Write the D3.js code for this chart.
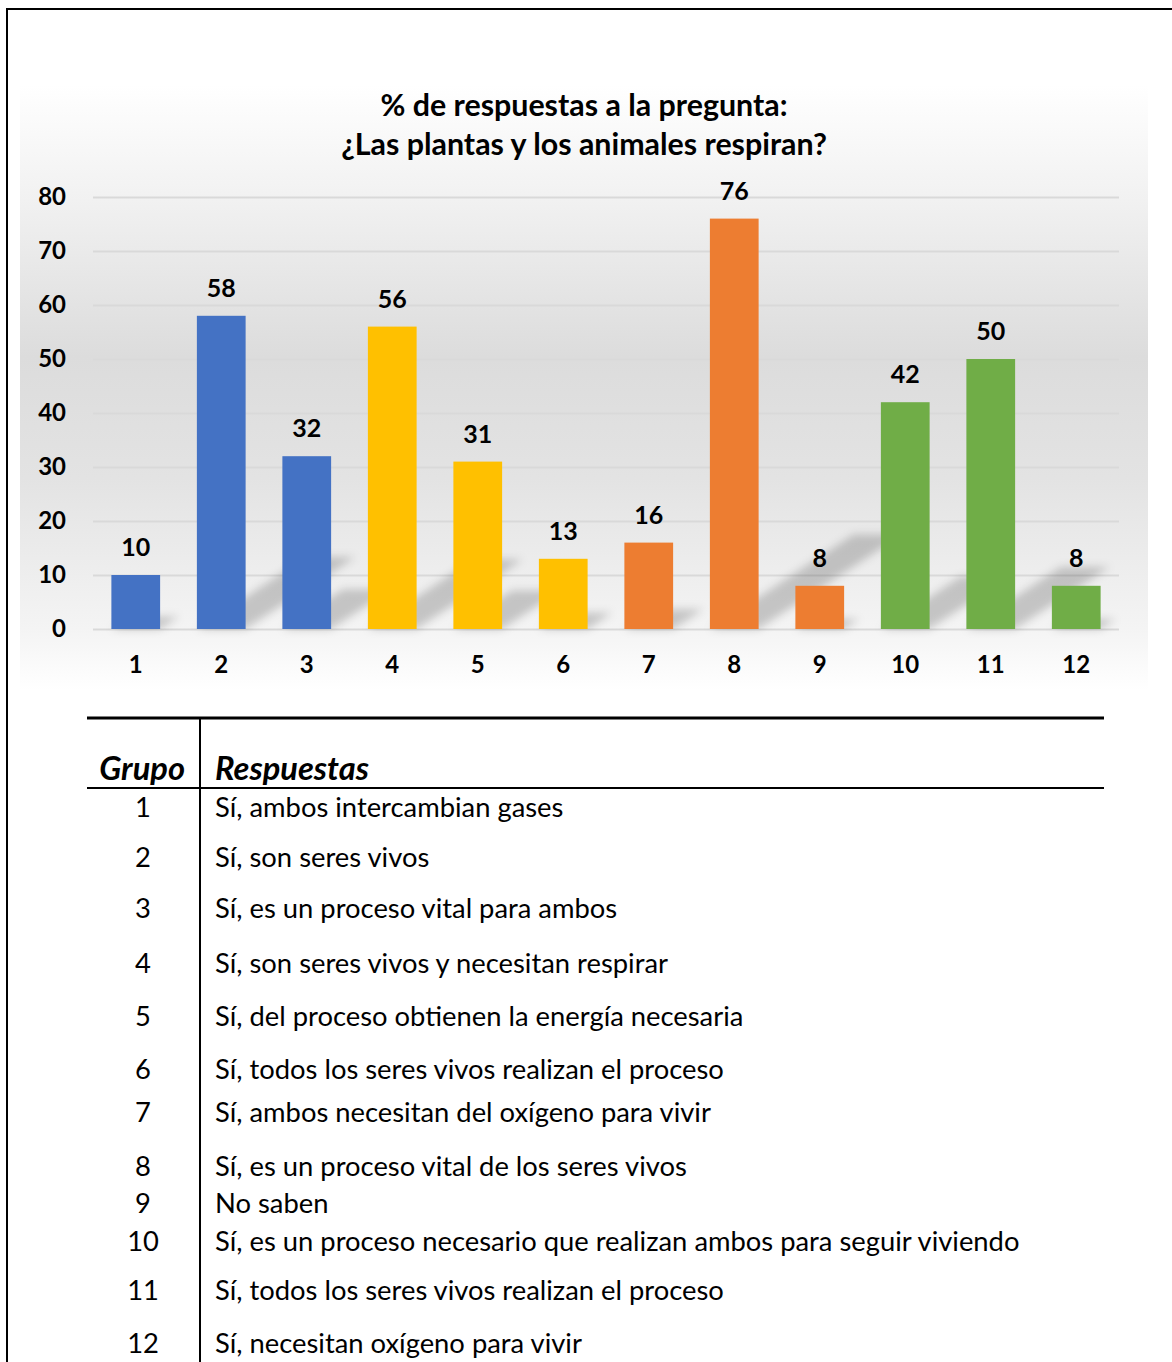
<!DOCTYPE html>
<html>
<head>
<meta charset="utf-8">
<script src="https://cdn.jsdelivr.net/npm/d3@7"></script>
<style>
  body { margin: 0; background: #fff; }
  svg { display: block; }
  text { font-family: Lato, "Open Sans", sans-serif; fill: #000; }
</style>
</head>
<body>
<svg id="chart" width="1172" height="1362"></svg>
<script>
// ---- data ----
const grupos = ["1", "2", "3", "4", "5", "6", "7", "8", "9", "10", "11", "12"];
const porcentajes = [10, 58, 32, 56, 31, 13, 16, 76, 8, 42, 50, 8];
const yTicks = [0, 10, 20, 30, 40, 50, 60, 70, 80];
const tituloLineas = [
  "% de respuestas a la pregunta:",
  "¿Las plantas y los animales respiran?"
];
const encabezados = ["Grupo", "Respuestas"];
const respuestas = [
  "Sí, ambos intercambian gases",
  "Sí, son seres vivos",
  "Sí, es un proceso vital para ambos",
  "Sí, son seres vivos y necesitan respirar",
  "Sí, del proceso obtienen la energía necesaria",
  "Sí, todos los seres vivos realizan el proceso",
  "Sí, ambos necesitan del oxígeno para vivir",
  "Sí, es un proceso vital de los seres vivos",
  "No saben",
  "Sí, es un proceso necesario que realizan ambos para seguir viviendo",
  "Sí, todos los seres vivos realizan el proceso",
  "Sí, necesitan oxígeno para vivir"
];

// ---- styling / layout ----
const paleta = ["#4472C4", "#4472C4", "#4472C4", "#FFC000", "#FFC000", "#FFC000",
                "#ED7D31", "#ED7D31", "#ED7D31", "#70AD47", "#70AD47", "#70AD47"];
const filaCentros = [808, 858, 909, 964, 1017, 1070, 1113, 1167, 1204, 1242, 1291, 1344];

const svg = d3.select("#chart");
const W = 1172;

// outer frame
svg.append("line").attr("x1", 6).attr("x2", W).attr("y1", 9).attr("y2", 9)
  .attr("stroke", "#000").attr("stroke-width", 2);
svg.append("line").attr("x1", 7).attr("x2", 7).attr("y1", 8).attr("y2", 1362)
  .attr("stroke", "#000").attr("stroke-width", 2);

// chart area background gradient
const defs = svg.append("defs");
const grad = defs.append("linearGradient").attr("id", "bg")
  .attr("x1", 0).attr("y1", 0).attr("x2", 0).attr("y2", 1);
[[0, "#ffffff"], [0.19, "#f1f1f1"], [0.45, "#dcdcdc"], [0.65, "#e3e3e3"],
 [0.9, "#f4f4f4"], [1, "#ffffff"]].forEach(([o, c]) =>
  grad.append("stop").attr("offset", o).attr("stop-color", c));
svg.append("rect").attr("x", 20).attr("y", 85).attr("width", 1128).attr("height", 605)
  .attr("fill", "url(#bg)");

defs.append("filter").attr("id", "blur").attr("x", "-50%").attr("y", "-50%")
  .attr("width", "200%").attr("height", "200%")
  .append("feGaussianBlur").attr("stdDeviation", 4);

// scales
const x = d3.scaleBand().domain(grupos).range([93, 1119])
  .paddingInner(0.43).paddingOuter(0.215);
const y = d3.scaleLinear().domain([0, 80]).range([629, 197]);
const color = d3.scaleOrdinal().domain(grupos).range(paleta);

// gridlines + y labels
const yAxis = svg.append("g").attr("transform", "translate(93,0)")
  .call(d3.axisLeft(y).tickValues(yTicks).tickSize(-1026).tickPadding(27));
yAxis.select(".domain").remove();
yAxis.selectAll(".tick line").attr("stroke", "#d9d9d9").attr("stroke-width", 2);
yAxis.selectAll(".tick text").attr("font-family", "Lato, sans-serif")
  .attr("font-weight", 700).attr("font-size", 24).attr("fill", "#000");

// x labels
const xAxis = svg.append("g").attr("transform", "translate(0,629)")
  .call(d3.axisBottom(x).tickSize(0).tickPadding(27));
xAxis.select(".domain").remove();
xAxis.selectAll(".tick text").attr("font-family", "Lato, sans-serif")
  .attr("font-weight", 700).attr("font-size", 24).attr("fill", "#000");

// cast shadows behind the bars
const datos = grupos.map((g, i) => ({ g, v: porcentajes[i] }));
svg.append("g").attr("filter", "url(#blur)")
  .selectAll("path").data(datos).join("path")
  .attr("d", d => {
    const x0 = x(d.g), x1 = x0 + x.bandwidth(), b = y(0);
    const h = y(0) - y(d.v);
    const dx = 0.35 * h, dy = 0.23 * h;
    return `M${x0},${b}L${x1},${b}L${x1 + dx},${b - dy}L${x0 + dx},${b - dy}Z`;
  })
  .attr("fill", "#000").attr("fill-opacity", 0.19);

// bars
svg.append("g").selectAll("rect").data(datos).join("rect")
  .attr("x", d => x(d.g)).attr("width", x.bandwidth())
  .attr("y", d => y(d.v)).attr("height", d => y(0) - y(d.v))
  .attr("fill", d => color(d.g));

// value labels
svg.append("g").selectAll("text").data(datos).join("text")
  .attr("x", d => x(d.g) + x.bandwidth() / 2)
  .attr("y", d => y(d.v) - 19)
  .attr("text-anchor", "middle").attr("font-weight", 700).attr("font-size", 25)
  .text(d => d.v);

// title
const titulo = svg.append("g");
titulo.selectAll("text").data(tituloLineas).join("text")
  .attr("x", 584).attr("y", (d, i) => 116 + i * 39)
  .attr("text-anchor", "middle").attr("font-weight", 700).attr("font-size", 26)
  .text(d => d);
{
  const w = titulo.selectAll("text").nodes()[1].getComputedTextLength();
  titulo.selectAll("text").attr("font-size", 26 * 486 / w);
}

// ---- table ----
svg.append("line").attr("x1", 87).attr("x2", 1104).attr("y1", 718).attr("y2", 718)
  .attr("stroke", "#000").attr("stroke-width", 3);
svg.append("line").attr("x1", 87).attr("x2", 1104).attr("y1", 788).attr("y2", 788)
  .attr("stroke", "#000").attr("stroke-width", 2);
svg.append("line").attr("x1", 200).attr("x2", 200).attr("y1", 718).attr("y2", 1362)
  .attr("stroke", "#000").attr("stroke-width", 2);

const cab = svg.append("g");
cab.append("text").attr("x", 185).attr("y", 780).attr("text-anchor", "end")
  .attr("font-weight", 700).attr("font-style", "italic").attr("font-size", 27)
  .text(encabezados[0]);
cab.append("text").attr("x", 215).attr("y", 780)
  .attr("font-weight", 700).attr("font-style", "italic").attr("font-size", 27)
  .text(encabezados[1]);
{
  const w = cab.selectAll("text").nodes()[1].getComputedTextLength();
  cab.selectAll("text").attr("font-size", 27 * 154 / w);
}

const filas = svg.append("g");
filas.selectAll("text.num").data(grupos).join("text").attr("class", "num")
  .attr("x", 143).attr("y", (d, i) => filaCentros[i] + 9)
  .attr("text-anchor", "middle").attr("font-size", 24).text(d => d);
const txt = filas.selectAll("text.resp").data(respuestas).join("text").attr("class", "resp")
  .attr("x", 215).attr("y", (d, i) => filaCentros[i] + 9)
  .attr("font-size", 24).text(d => d);
{
  const w = txt.nodes()[9].getComputedTextLength();
  const fs = 24 * 805 / w;
  txt.attr("font-size", fs);
  filas.selectAll("text.num").attr("font-size", fs);
}
</script>
</body>
</html>
